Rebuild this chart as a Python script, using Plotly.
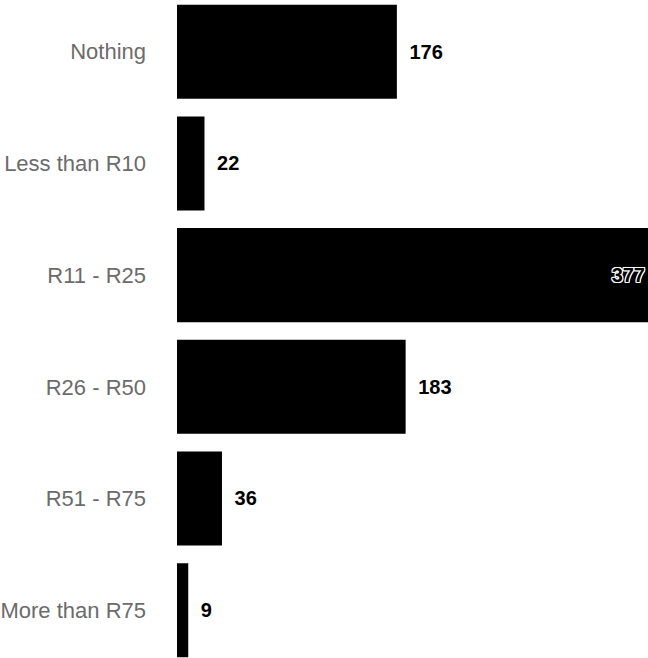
import plotly.graph_objects as go

categories = ["Nothing", "Less than R10", "R11 - R25", "R26 - R50", "R51 - R75", "More than R75"]
values = [176, 22, 377, 183, 36, 9]

max_v = max(values)
text_positions = ["inside" if v == max_v else "outside" for v in values]

fig = go.Figure(
    go.Bar(
        x=values,
        y=categories,
        orientation="h",
        marker=dict(color="black", line=dict(width=0)),
        text=values,
        texttemplate="\u00a0\u2009<b>%{x}</b>",
        textposition=text_positions,
        textangle=0,
        constraintext="none",
        cliponaxis=False,
        outsidetextfont=dict(family="Liberation Sans, Arial, sans-serif", size=20, color="black"),
        insidetextfont=dict(
            family="Liberation Sans, Arial, sans-serif", size=20, color="black",
            shadow="1px 1px 0 white, -1px -1px 0 white, 1px -1px 0 white, -1px 1px 0 white, 0 1px 0 white, 0 -1px 0 white, 1px 0 0 white, -1px 0 0 white",
        ),
        hoverinfo="skip",
    )
)

fig.update_layout(
    width=648,
    height=658,
    margin=dict(l=175, r=0, t=0, b=0, pad=0),
    paper_bgcolor="white",
    plot_bgcolor="white",
    bargap=0.158,
    showlegend=False,
    font=dict(family="Liberation Sans, Arial, sans-serif"),
    xaxis=dict(
        range=[0, max_v],
        visible=False,
        showgrid=False,
        zeroline=False,
        fixedrange=True,
    ),
    yaxis=dict(
        type="category",
        categoryorder="array",
        categoryarray=categories,
        range=[5.428, -0.463],
        showgrid=False,
        zeroline=False,
        showline=False,
        ticks="",
        ticklabelstandoff=30,
        tickfont=dict(family="Liberation Sans, Arial, sans-serif", size=22, color="#6b6b6b"),
        fixedrange=True,
    ),
)

fig.write_html(
    "out.html",
    config={"displayModeBar": False},
    post_script="document.body.style.margin='0';document.body.style.overflow='hidden';",
)
